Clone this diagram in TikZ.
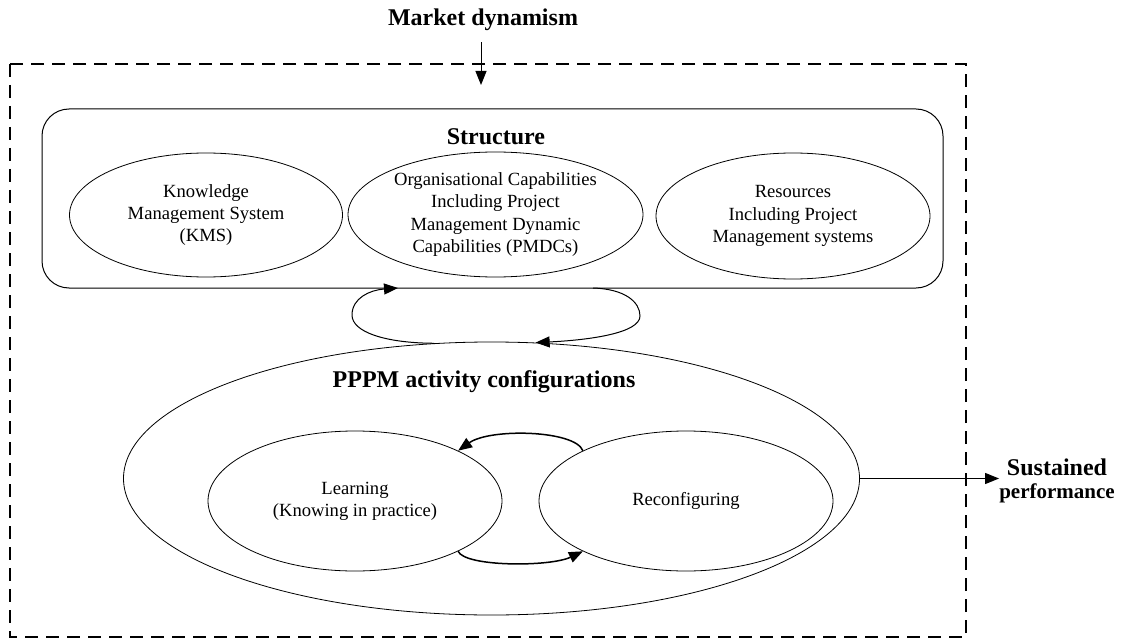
\documentclass[tikz,border=0pt]{standalone}
\usepackage{fontspec}
\setmainfont{Liberation Serif}
\usetikzlibrary{shapes.geometric,arrows.meta}
\begin{document}
\begin{tikzpicture}[x=1pt,y=-1pt,
  ell/.style={draw, ellipse, inner sep=0pt, line width=0.8pt, align=center, font=\fontsize{18.6}{22.3}\selectfont},
  bigell/.style={draw, ellipse, inner sep=0pt, line width=0.8pt},
  ttl/.style={font=\bfseries\fontsize{24}{23}\selectfont, inner sep=0pt},
  arr/.style={line width=1.5pt, -{Triangle[length=14pt,width=11pt]}},
  thinarr/.style={line width=1pt, -{Triangle[length=14pt,width=11pt]}},
  frame/.style={line width=1.8pt, dash pattern=on 13pt off 8pt},
  box/.style={draw, rectangle, line width=1pt, rounded corners=27pt, inner sep=0pt}
]
\useasboundingbox (0,0) rectangle (1121,639);
\draw[frame] (10,64) rectangle (966,637);
\node[ttl] (md) at (483,20) {Market dynamism};
\coordinate (mdin) at (481,85);
\draw[thinarr] (md.south -| mdin) ++(0,11) -- (mdin);

\node[box, minimum width=901pt, minimum height=179pt] (struct) at (492.5,198.5) {};
\node[ttl] (stl) at (496,137) {Structure};
\node[ell, minimum width=273pt, minimum height=124pt] (kms) at (206,215) {Knowledge\\Management System\\(KMS)};
\node[ell, minimum width=295pt, minimum height=125pt] (org) at (495.5,214.5) {Organisational Capabilities\\Including Project\\Management Dynamic\\Capabilities (PMDCs)};
\node[ell, minimum width=274pt, minimum height=126pt] (res) at (793,216) {Resources\\Including Project\\Management systems};

\node[bigell, minimum width=736pt, minimum height=273pt] (pppm) at (491.5,478.5) {};
\node[ttl] (pl) at (484,382) {PPPM activity configurations};
\node[ell, minimum width=294pt, minimum height=140pt] (learn) at (355,501) {Learning\\(Knowing in practice)};
\node[ell, minimum width=294pt, minimum height=140pt] (reconf) at (686,501) {Reconfiguring};

\coordinate (sL) at (398,288);
\coordinate (sR) at (593,288);
\draw[thinarr] (pppm.113.6) .. controls (385,343) and (352,332) .. (352,315) .. controls (352,298) and (370,290) .. (sL);
\draw[thinarr] (sR) .. controls (625,289) and (640,302) .. (640,316) .. controls (640,333) and (590,340) .. (pppm.72.3);

\draw[arr] (reconf.154) .. controls (575,430) and (490,428) .. (learn.26);
\draw[arr] (learn.334) .. controls (465,567) and (550,567) .. (reconf.206);

\node[ttl, align=center] (sust) at (1057,481) {Sustained\\{\fontsize{21}{23}\selectfont performance}};
\draw[thinarr] (pppm.east) -- (pppm.east -| sust.west);
\end{tikzpicture}
\end{document}
